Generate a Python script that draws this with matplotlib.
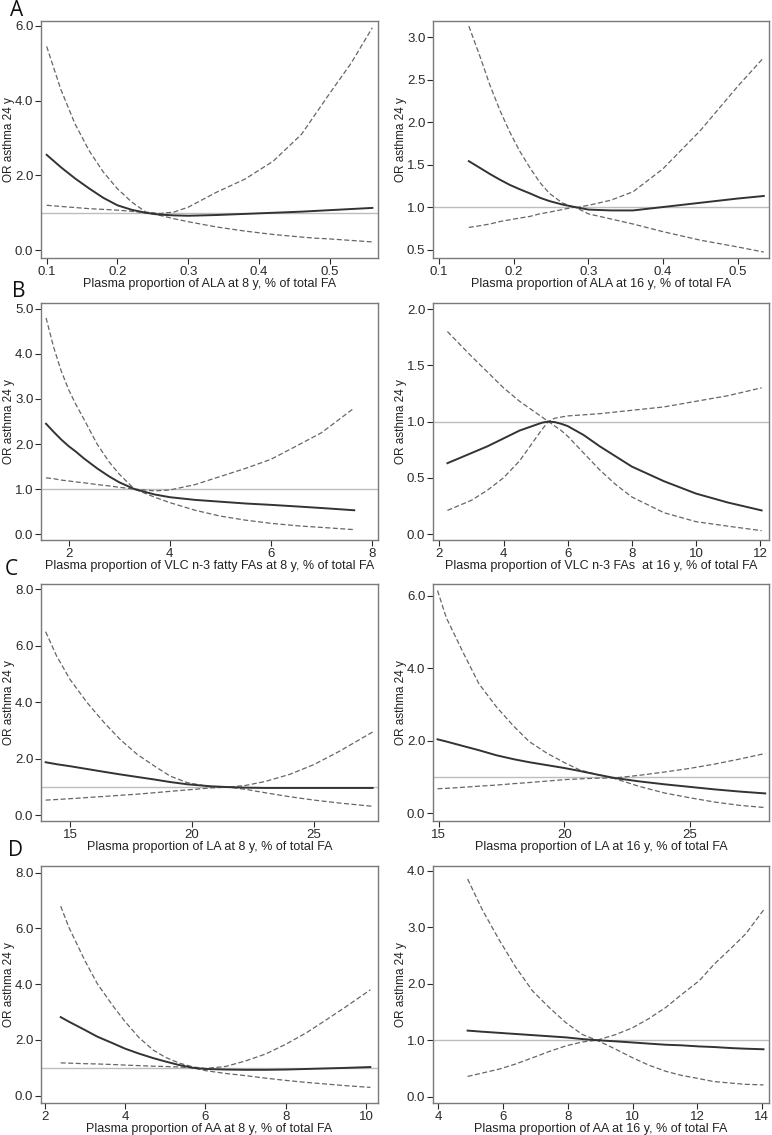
import matplotlib
matplotlib.use("Agg")
import matplotlib.pyplot as plt

plt.rcParams['font.family'] = ['Liberation Sans', 'DejaVu Sans']

# ---- data ----
# A left: ALA at 8 y
ala8_x = [0.10, 0.12, 0.14, 0.16, 0.18, 0.20, 0.22, 0.24, 0.26, 0.28, 0.30, 0.34, 0.38, 0.42, 0.46, 0.48, 0.50, 0.53, 0.56]
ala8_or = [2.55, 2.22, 1.92, 1.65, 1.40, 1.20, 1.08, 1.00, 0.95, 0.93, 0.92, 0.94, 0.97, 1.00, 1.03, 1.05, 1.07, 1.10, 1.13]
ala8_hi = [5.45, 4.30, 3.38, 2.66, 2.09, 1.64, 1.29, 1.02, 0.98, 1.02, 1.15, 1.55, 1.90, 2.38, 3.10, 3.65, 4.20, 5.00, 5.95]
ala8_lo = [1.20, 1.17, 1.14, 1.11, 1.09, 1.07, 1.04, 1.00, 0.93, 0.84, 0.76, 0.62, 0.51, 0.42, 0.35, 0.32, 0.30, 0.26, 0.22]

# A right: ALA at 16 y
ala16_x = [0.14, 0.155, 0.168, 0.182, 0.195, 0.208, 0.222, 0.235, 0.248, 0.265, 0.282, 0.30, 0.33, 0.36, 0.40, 0.45, 0.50, 0.535]
ala16_or = [1.54, 1.46, 1.39, 1.32, 1.26, 1.21, 1.16, 1.11, 1.07, 1.03, 1.00, 0.97, 0.96, 0.96, 1.00, 1.05, 1.10, 1.13]
ala16_hi = [3.13, 2.77, 2.44, 2.13, 1.88, 1.66, 1.46, 1.29, 1.16, 1.05, 0.99, 1.02, 1.08, 1.18, 1.45, 1.90, 2.42, 2.76]
ala16_lo = [0.76, 0.78, 0.80, 0.83, 0.85, 0.87, 0.89, 0.92, 0.94, 0.97, 1.00, 0.92, 0.86, 0.80, 0.71, 0.61, 0.53, 0.47]

# B left: VLC n-3 at 8 y
vlc8_x = [1.55, 1.70, 1.85, 2.0, 2.13, 2.3, 2.56, 2.8, 3.0, 3.3, 3.7, 4.0, 4.5, 5.0, 5.5, 6.0, 6.58, 7.0, 7.65]
vlc8_or = [2.45, 2.27, 2.10, 1.95, 1.84, 1.68, 1.46, 1.28, 1.15, 1.00, 0.88, 0.82, 0.76, 0.72, 0.68, 0.65, 0.61, 0.58, 0.53]
vlc8_hi = [4.80, 4.15, 3.62, 3.20, 2.90, 2.55, 2.00, 1.60, 1.33, 1.00, 0.96, 0.98, 1.10, 1.28, 1.46, 1.66, 2.00, 2.25, 2.80]
vlc8_lo = [1.25, 1.23, 1.20, 1.18, 1.16, 1.14, 1.10, 1.07, 1.04, 1.00, 0.82, 0.70, 0.53, 0.40, 0.31, 0.24, 0.18, 0.15, 0.10]

# B right: VLC n-3 at 16 y
vlc16_x = [2.25, 3, 3.5, 4, 4.5, 5, 5.2, 5.4, 5.6, 5.8, 6, 6.5, 7, 7.5, 8, 9, 10, 11, 12.05]
vlc16_or = [0.63, 0.72, 0.78, 0.85, 0.92, 0.97, 0.99, 1.00, 0.995, 0.98, 0.96, 0.88, 0.78, 0.69, 0.60, 0.47, 0.36, 0.28, 0.21]
vlc16_lo = [0.21, 0.30, 0.39, 0.50, 0.65, 0.85, 0.93, 1.00, 1.03, 1.04, 1.05, 1.06, 1.07, 1.085, 1.10, 1.13, 1.18, 1.23, 1.30]
vlc16_hi = [1.80, 1.58, 1.44, 1.30, 1.18, 1.08, 1.04, 1.00, 0.96, 0.92, 0.87, 0.72, 0.57, 0.44, 0.33, 0.19, 0.11, 0.07, 0.03]

# C left: LA at 8 y
la8_x = [14.0, 14.45, 15.0, 15.7, 16.4, 17.05, 17.75, 18.45, 19.1, 19.8, 20.75, 21.5, 22.2, 23, 24, 25, 26, 27.4]
la8_or = [1.88, 1.81, 1.74, 1.64, 1.54, 1.45, 1.36, 1.27, 1.18, 1.10, 1.03, 1.00, 0.98, 0.97, 0.97, 0.97, 0.97, 0.97]
la8_hi = [6.50, 5.64, 4.81, 3.99, 3.28, 2.69, 2.16, 1.75, 1.39, 1.16, 1.01, 1.00, 1.06, 1.20, 1.45, 1.80, 2.25, 2.95]
la8_lo = [0.54, 0.56, 0.59, 0.63, 0.67, 0.71, 0.75, 0.80, 0.85, 0.90, 0.97, 1.00, 0.92, 0.80, 0.66, 0.54, 0.44, 0.32]

# C right: LA at 16 y
la16_x = [14.95, 15.3, 16.0, 16.6, 17.3, 18.0, 18.6, 19.3, 20.0, 20.6, 21.3, 22.0, 23, 24, 25, 26, 27, 28]
la16_or = [2.04, 1.98, 1.85, 1.74, 1.60, 1.49, 1.41, 1.33, 1.25, 1.17, 1.07, 0.975, 0.88, 0.80, 0.73, 0.66, 0.60, 0.55]
la16_hi = [6.14, 5.39, 4.39, 3.57, 2.93, 2.39, 1.98, 1.66, 1.40, 1.20, 1.07, 0.96, 0.74, 0.56, 0.43, 0.31, 0.22, 0.16]
la16_lo = [0.68, 0.69, 0.72, 0.75, 0.78, 0.82, 0.85, 0.89, 0.93, 0.95, 0.97, 0.975, 1.05, 1.14, 1.24, 1.36, 1.50, 1.65]

# D left: AA at 8 y
aa8_x = [2.4, 2.6, 3.0, 3.31, 3.7, 4.0, 4.35, 4.7, 5.0, 5.35, 5.7, 6.0, 6.5, 7.0, 7.5, 8.0, 8.5, 9.0, 9.5, 10.1]
aa8_or = [2.82, 2.66, 2.36, 2.12, 1.88, 1.69, 1.51, 1.35, 1.23, 1.10, 1.00, 0.96, 0.94, 0.93, 0.93, 0.94, 0.96, 0.98, 1.00, 1.03]
aa8_hi = [6.80, 6.05, 4.85, 4.02, 3.22, 2.66, 2.08, 1.64, 1.38, 1.17, 1.03, 0.98, 1.05, 1.25, 1.50, 1.85, 2.25, 2.72, 3.20, 3.80]
aa8_lo = [1.18, 1.17, 1.15, 1.14, 1.12, 1.10, 1.08, 1.06, 1.05, 1.03, 1.00, 0.90, 0.80, 0.72, 0.63, 0.55, 0.48, 0.42, 0.36, 0.30]

# D right: AA at 16 y
aa16_x = [4.9, 5.36, 5.88, 6.39, 6.91, 7.42, 7.94, 8.45, 8.9, 9.48, 10.0, 10.5, 11.03, 11.5, 12.06, 12.5, 13.09, 13.5, 14.05]
aa16_or = [1.17, 1.15, 1.13, 1.11, 1.09, 1.07, 1.05, 1.02, 1.00, 0.98, 0.96, 0.94, 0.92, 0.91, 0.89, 0.88, 0.86, 0.85, 0.84]
aa16_hi = [3.85, 3.30, 2.77, 2.29, 1.87, 1.58, 1.31, 1.10, 1.00, 0.84, 0.69, 0.56, 0.45, 0.38, 0.32, 0.27, 0.24, 0.22, 0.21]
aa16_lo = [0.36, 0.42, 0.49, 0.58, 0.69, 0.80, 0.90, 0.97, 1.00, 1.10, 1.22, 1.38, 1.58, 1.80, 2.05, 2.33, 2.65, 2.88, 3.30]

xlabels = ["Plasma proportion of ALA at 8 y, % of total FA",
           "Plasma proportion of ALA at 16 y, % of total FA",
           "Plasma proportion of VLC n-3 fatty FAs at 8 y, % of total FA",
           "Plasma proportion of VLC n-3 FAs  at 16 y, % of total FA",
           "Plasma proportion of LA at 8 y, % of total FA",
           "Plasma proportion of LA at 16 y, % of total FA",
           "Plasma proportion of AA at 8 y, % of total FA",
           "Plasma proportion of AA at 16 y, % of total FA"]

panels = [
    (ala8_x, ala8_or, ala8_hi, ala8_lo, (0.092, 0.568), (-0.21, 6.13), [0.1, 0.2, 0.3, 0.4, 0.5], [0, 2, 4, 6], "%.1f"),
    (ala16_x, ala16_or, ala16_hi, ala16_lo, (0.092, 0.542), (0.40, 3.19), [0.1, 0.2, 0.3, 0.4, 0.5], [0.5, 1.0, 1.5, 2.0, 2.5, 3.0], "%.1f"),
    (vlc8_x, vlc8_or, vlc8_hi, vlc8_lo, (1.45, 8.12), (-0.13, 5.13), [2, 4, 6, 8], [0, 1, 2, 3, 4, 5], "%g"),
    (vlc16_x, vlc16_or, vlc16_hi, vlc16_lo, (1.80, 12.28), (-0.053, 2.054), [2, 4, 6, 8, 10, 12], [0, 0.5, 1.0, 1.5, 2.0], "%g"),
    (la8_x, la8_or, la8_hi, la8_lo, (13.81, 27.62), (-0.2, 8.19), [15, 20, 25], [0, 2, 4, 6, 8], "%g"),
    (la16_x, la16_or, la16_hi, la16_lo, (14.77, 28.15), (-0.21, 6.32), [15, 20, 25], [0, 2, 4, 6], "%g"),
    (aa8_x, aa8_or, aa8_hi, aa8_lo, (1.91, 10.29), (-0.26, 8.24), [2, 4, 6, 8, 10], [0, 2, 4, 6, 8], "%g"),
    (aa16_x, aa16_or, aa16_hi, aa16_lo, (3.83, 14.22), (-0.11, 4.08), [4, 6, 8, 10, 12, 14], [0, 1, 2, 3, 4], "%g"),
]

fig = plt.figure(figsize=(7.72, 11.35), dpi=100)

lefts = [41/772, 433/772]
widths = [337/772, 336/772]
row_tops = [21, 303, 584, 866]
row_h = 237

for i, p in enumerate(panels):
    x, y, hi, lo, xl, yl, xt, yt, xfmt = p
    col = i % 2
    row = i // 2
    bottom = 1 - (row_tops[row] + row_h) / 1135
    ax = fig.add_axes([lefts[col], bottom, widths[col], row_h / 1135])
    ax.axhline(1.0, color='#bdbdbd', lw=1.0, zorder=1)
    ax.plot(x, hi, color='#666666', lw=0.9, ls=(0, (4, 2)), zorder=2)
    ax.plot(x, lo, color='#666666', lw=0.9, ls=(0, (4, 2)), zorder=2)
    ax.plot(x, y, color='#333333', lw=1.4, zorder=3)
    ax.set_xlim(xl)
    ax.set_ylim(yl)
    ax.set_xticks(xt)
    ax.set_xticklabels([xfmt % v for v in xt])
    ax.set_yticks(yt)
    ax.set_yticklabels(["%.1f" % v for v in yt])
    ax.tick_params(colors='#2a2a2a', labelsize=9.5, length=4, width=0.8, pad=1.5)
    for s in ax.spines.values():
        s.set_color('#7a7a7a')
        s.set_linewidth(1.0)
    ax.set_xlabel(xlabels[i], fontsize=9, color='#222222', labelpad=0)
    ax.set_ylabel("OR asthma 24 y", fontsize=8.5, color='#222222')
    ax.yaxis.set_label_coords(-0.076, 0.5)

# panel letters
for letter, xpix, ypix in zip(["A", "B", "C", "D"], [10, 12, 5, 8], [0, 281, 559, 840]):
    fig.text(xpix/772, 1 - ypix/1135, letter, fontsize=15, family=['Open Sans', 'DejaVu Sans'],
             va='top', ha='left', color='#111111')

fig.savefig("out.png", dpi=100)
